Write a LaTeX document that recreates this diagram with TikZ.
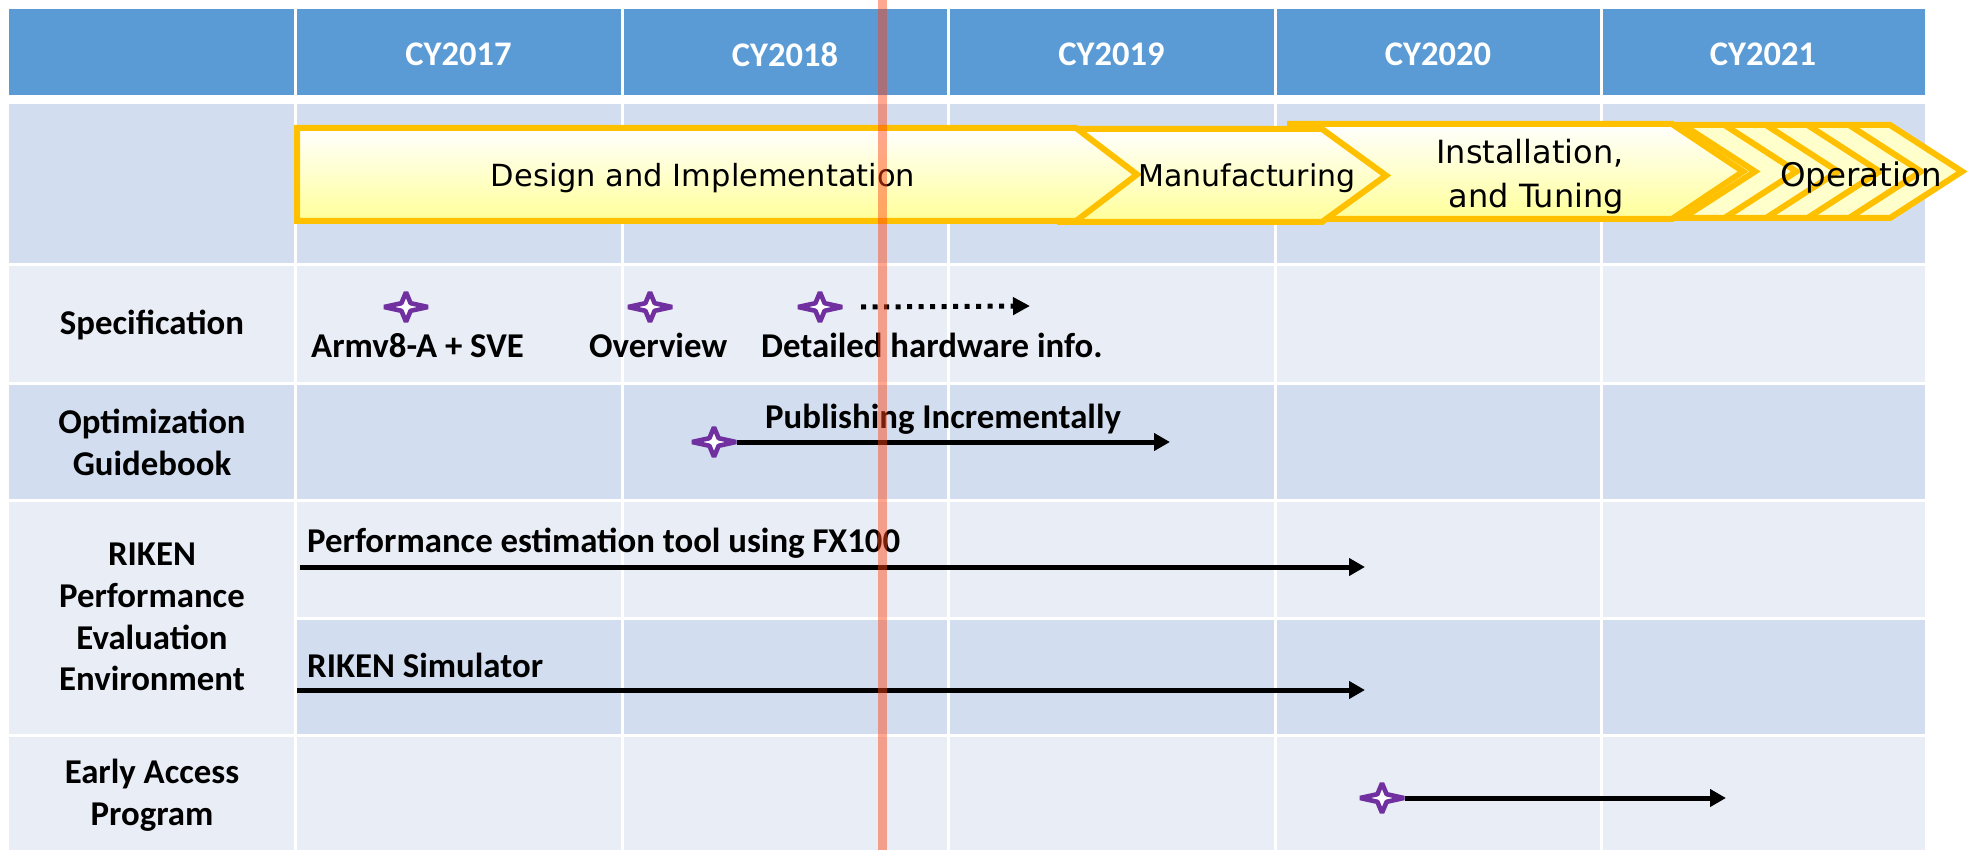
\documentclass[tikz,border=0pt]{standalone}
\usepackage{fontspec}
\setmainfont{Carlito}
\newfontfamily\chevfont{DejaVu Sans}
\usetikzlibrary{arrows.meta,calc}
\definecolor{hdrblue}{HTML}{5B9BD5}
\definecolor{rowdark}{HTML}{D2DEEF}
\definecolor{rowlight}{HTML}{E9EDF6}
\definecolor{chevborder}{HTML}{FFC000}
\definecolor{chevbottom}{HTML}{FFFF99}
\definecolor{opfill}{HTML}{FFFFCC}
\definecolor{starpurple}{HTML}{7030A0}
\definecolor{nowline}{RGB}{255,67,20}

% four-pointed milestone star centred on a named node
\newcommand\drawmilestone[1]{%
  \draw[starpurple,fill=white,line width=4.6pt,line join=bevel,shift={(#1)}]
    (22,0) -- (4.6,-3.8) -- (0,-14.8) -- (-4.6,-3.8) -- (-22,0) -- (-4.6,3.8)
    -- (0,14.8) -- (4.6,3.8) -- cycle;}

\begin{document}
\begin{tikzpicture}[x=1pt,y=-1pt,
  hdrtext/.style={text=white,font=\fontsize{34.5}{41}\selectfont\bfseries,inner sep=0pt},
  rowlabel/.style={font=\fontsize{34.8}{41.8}\selectfont\bfseries,align=center,inner sep=0pt},
  itemtext/.style={font=\fontsize{34.8}{41}\selectfont\bfseries,inner sep=0pt,anchor=base west},
  phase/.style={draw=chevborder,line width=6pt,line join=miter,top color=white,bottom color=chevbottom},
  stripe/.style={draw=chevborder,line width=6pt,line join=miter},
  phasetext/.style={inner sep=0pt,anchor=base},
  milestone/.style={inner sep=0pt,minimum width=46pt,minimum height=33pt},
  plan/.style={line width=5pt,-{Triangle[length=16pt,width=17pt]}},
  tentative/.style={line width=5pt,dash pattern=on 4.8pt off 6.7pt,-{Triangle[length=17pt,width=17pt]}},
  gridline/.style={white,line width=3pt},
]
\useasboundingbox (0,0) rectangle (1969,850);

% table cells
\fill[hdrblue]  (9,9)     rectangle (1925,95);
\fill[rowdark]  (9,104)   rectangle (1925,265);
\fill[rowlight] (9,265)   rectangle (1925,383);
\fill[rowdark]  (9,383)   rectangle (1925,500);
\fill[rowlight] (9,500)   rectangle (1925,618);
\fill[rowlight] (9,618)   rectangle (295,735);
\fill[rowdark]  (295,618) rectangle (1925,735);
\fill[rowlight] (9,735)   rectangle (1925,850);

% white grid
\foreach \x in {295,622,948,1275,1601} \draw[gridline] (\x,9) -- (\x,850);
\foreach \y in {265,383,500,735} \draw[gridline] (9,\y) -- (1925,\y);
\draw[gridline] (295,618) -- (1925,618);

% year headers
\node[hdrtext] (cy2017) at (458.5,54.5) {CY2017};
\node[hdrtext] (cy2018) at (785,54.5)   {CY2018};
\node[hdrtext] (cy2019) at (1111.5,54.5){CY2019};
\node[hdrtext] (cy2020) at (1438,54.5)  {CY2020};
\node[hdrtext] (cy2021) at (1763,54.5)  {CY2021};

% row labels
\node[rowlabel] (lspec) at (152,325) {Specification};
\node[rowlabel] (lopt)  at (152,442) {Optimization\\Guidebook};
\node[rowlabel] (lrpe)  at (152,617) {RIKEN\\Performance\\Evaluation\\Environment};
\node[rowlabel] (leap)  at (152,795.5) {Early Access\\Program};

% project phases, back to front
\draw[draw=chevborder,line width=6pt,line join=miter,fill=opfill]
  (1650,125) -- (1890,125) -- (1962,171.5) -- (1890,218) -- (1650,218) -- cycle;
\foreach \k in {0,...,4}
  \draw[stripe] ({1683+41.5*\k},125) -- ({1755+41.5*\k},171.5) -- ({1683+41.5*\k},218);
\draw[phase] (1290,124) -- (1672,124) -- (1743,171.5) -- (1672,219) -- (1290,219) -- cycle;
\draw[phase] (1060,129) -- (1322,129) -- (1386,175.5) -- (1322,222) -- (1060,222) -- cycle;
\draw[phase] (297,128) -- (1076,128) -- (1137,174.5) -- (1076,221) -- (297,221) -- cycle;

\node[phasetext,font=\chevfont\fontsize{30.5}{36}\selectfont] (pdesign) at (703,187) {Design and Implementation};
\node[phasetext,font=\chevfont\fontsize{30}{36}\selectfont] (pmanu) at (1247,187) {Manufacturing};
\node[inner sep=0pt,align=center,font=\chevfont\fontsize{32}{44}\selectfont] (pinst) at (1530,177) {Installation,\\\hspace*{0.4em}and Tuning};
\node[phasetext,font=\chevfont\fontsize{32.5}{36}\selectfont] (poper) at (1861,187) {Operation};

% milestones
\node[milestone] (s1) at (406,307) {};
\node[milestone] (s2) at (650,307) {};
\node[milestone] (s3) at (820,307) {};
\node[milestone] (s4) at (714,442) {};
\node[milestone] (s5) at (1382,798) {};

\node[itemtext] (tarm)  at (311,357) {Armv8-A + SVE};
\node[itemtext] (tover) at (589,357) {Overview};
\node[itemtext] (tdet)  at (761,357) {Detailed hardware info.};
\node[itemtext] (tpub)  at (765,428) {Publishing Incrementally};
\node[itemtext] (tfx)   at (307,552) {Performance estimation tool using FX100};
\node[itemtext] (tsim)  at (307,677) {RIKEN Simulator};

% schedule arrows
\coordinate (specend) at (1030,306);
\coordinate (optend)  at (1170,442);
\coordinate (fxstart) at (300,567);
\coordinate (fxend)   at (1365,567);
\coordinate (simstart) at (297,690);
\coordinate (simend)  at (1365,690);
\coordinate (eapend)  at (1726,798);

\draw[tentative] ([xshift=18pt]s3.east) -- (specend);
\draw[plan] (s4.east) -- (optend);
\draw[plan] (fxstart) -- (fxend);
\draw[plan] (simstart) -- (simend);
\draw[plan] (s5.east) -- (eapend);

\drawmilestone{s1}
\drawmilestone{s2}
\drawmilestone{s3}
\drawmilestone{s4}
\drawmilestone{s5}

% current-date marker
\fill[nowline,opacity=0.47] (878,0) rectangle (887,850);
\end{tikzpicture}
\end{document}
